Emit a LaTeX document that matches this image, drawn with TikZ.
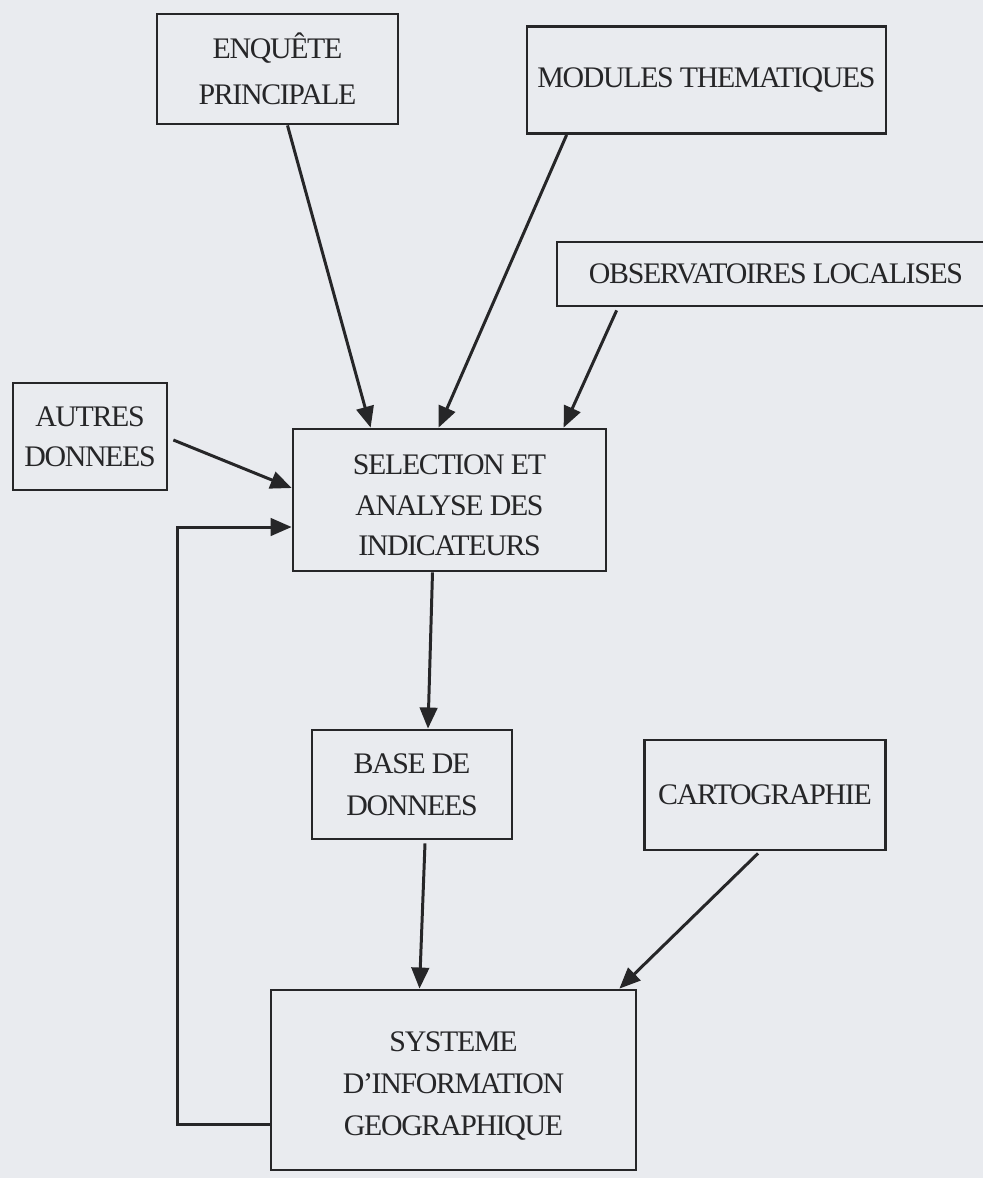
\documentclass[tikz,border=0pt]{standalone}
\usepackage{fontspec}
\setmainfont{Liberation Serif}[LetterSpace=-4.5]
\usetikzlibrary{calc,arrows.meta}
\definecolor{paper}{RGB}{233,235,239}
\definecolor{ink}{RGB}{38,38,40}
\tikzset{
  box/.style={draw=ink, line width=1.6pt, rectangle, align=center, text=ink,
    font=\fontsize{17}{23}\selectfont, inner sep=0pt},
  arr/.style={draw=ink, line width=1.7pt, -{Triangle[length=12pt,width=10pt]}},
}
\begin{document}
\begin{tikzpicture}[x=0.02cm,y=-0.02cm]
\fill[paper] (0,0) rectangle (983,1178);
\useasboundingbox (0,0) rectangle (983,1178);
\node[box, minimum width=4.82cm, minimum height=2.2cm, font=\fontsize{17}{26}\selectfont] (enq) at (277.5,69) {ENQUÊTE\\PRINCIPALE};
\node[box, minimum width=7.18cm, minimum height=2.14cm] (mod) at (706.5,80) {MODULES THEMATIQUES};
\node[box, minimum width=8.76cm, minimum height=1.28cm] (obs) at (776,274) {OBSERVATOIRES LOCALISES};
\node[box, minimum width=3.08cm, minimum height=2.14cm] (aut) at (90,436.5) {AUTRES\\DONNEES};
\node[box, minimum width=6.26cm, minimum height=2.84cm] (sel) at (449.5,500) {\\[-0.2cm]SELECTION ET\\ANALYSE DES\\INDICATEURS};
\node[box, minimum width=4.0cm, minimum height=2.18cm, font=\fontsize{17}{24}\selectfont] (base) at (412,784.5) {BASE DE\\DONNEES};
\node[box, minimum width=4.82cm, minimum height=2.2cm] (carto) at (765,795) {CARTOGRAPHIE};
\node[box, minimum width=7.3cm, minimum height=3.6cm, font=\fontsize{17}{24}\selectfont] (sig) at (453.5,1080) {\\[-0.2cm]SYSTEME\\D'INFORMATION\\GEOGRAPHIQUE};
\draw[arr] ($(enq.south)+(10,0)$) -- ($(sel.north west)+(79,0)$);
\draw[arr] ($(mod.south west)+(41,0)$) -- ($(sel.north west)+(147,0)$);
\draw[arr] ($(obs.south west)+(61,3)$) -- ($(sel.north west)+(272,0)$);
\draw[arr] ($(aut.east)+(5,3.5)$) -- ($(sel.west)+(0,-12)$);
\draw[arr] ($(sig.west)+(0,44)$) -| ($(sel.west)+(-114,27)$) -- ($(sel.west)+(0,27)$);
\draw[arr] ($(sel.south)+(-17,0)$) -- ($(base.north)+(16,0)$);
\draw[arr] ($(base.south)+(13,3)$) -- ($(sig.north)+(-34,0)$);
\draw[arr] ($(carto.south)+(-7,2)$) -- ($(sig.north east)+(-18,0)$);
\end{tikzpicture}
\end{document}
